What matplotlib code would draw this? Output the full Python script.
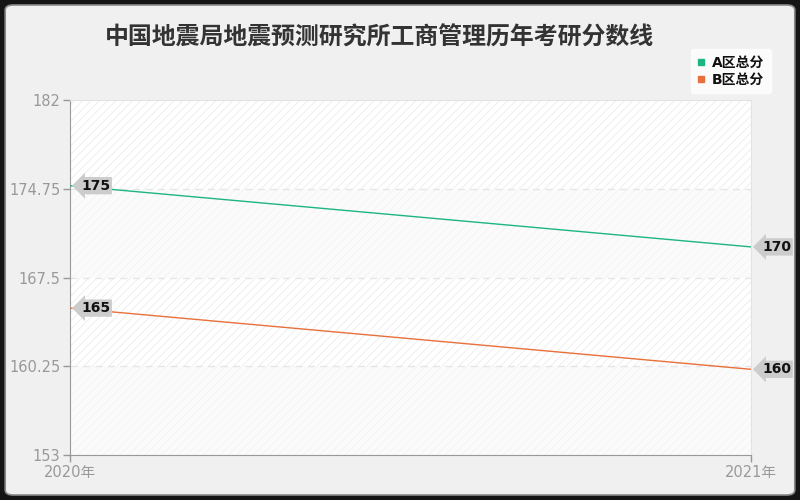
import matplotlib
matplotlib.use("Agg")
import matplotlib.pyplot as plt
from matplotlib.patches import FancyBboxPatch
from matplotlib.lines import Line2D

plt.rcParams['font.family'] = ['DejaVu Sans', 'Noto Sans CJK SC']

# --- Data ---
TITLE = "中国地震局地震预测研究所工商管理历年考研分数线"
years = ["2020年", "2021年"]
series_names = ["A区总分", "B区总分"]
score_a = [175, 170]
score_b = [165, 160]
y_ticks = [153, 160.25, 167.5, 174.75, 182]
y_tick_labels = ["153", "160.25", "167.5", "174.75", "182"]

colors = ["#1db584", "#e8703a"]

fig = plt.figure(figsize=(8, 5), dpi=100)
fig.patch.set_facecolor("#151515")

# rounded card behind everything
card = FancyBboxPatch((0.0065, 0.01), 0.987, 0.98, boxstyle="round,pad=0,rounding_size=0.01",
                      transform=fig.transFigure, fc="#f0f0f0", ec="#8a8a8a", lw=1.2, zorder=-10)
fig.patches.append(card)

ax = fig.add_axes([0.0875, 0.09, 0.85125, 0.71])
ax.set_facecolor("white")
x = list(range(len(years)))

# alternating bands
plt.rcParams['hatch.linewidth'] = 0.6
for i in range(len(y_ticks) - 1):
    if i % 2 == 1:
        ax.axhspan(y_ticks[i], y_ticks[i + 1], fc="white", ec="#ececec", hatch="////", lw=0, zorder=0)
    else:
        ax.axhspan(y_ticks[i], y_ticks[i + 1], fc="#fbfbfb", ec="#f3f3f3", hatch="////", lw=0, zorder=0)

for yt in y_ticks[1:-1]:
    ax.axhline(yt, color="#e6e6e6", lw=1, ls=(0, (5, 4)), zorder=1)

for vals, c, name in zip([score_a, score_b], colors, series_names):
    ax.plot(x, vals, color=c, lw=1, zorder=3)
    for xi, v in zip(x, vals):
        ax.annotate(str(v), (xi, v), xytext=(8, 0), textcoords="offset points",
                    ha="left", va="center", fontsize=10, fontweight="bold", color="#111111",
                    bbox=dict(boxstyle="larrow,pad=0.12", fc="#cccccc", ec="none"),
                    zorder=4, annotation_clip=False)

ax.set_xlim(0, 1)
ax.set_ylim(153, 182)
ax.set_xticks(x)
ax.set_xticklabels(years)
ax.set_yticks(y_ticks)
ax.set_yticklabels(y_tick_labels)
ax.tick_params(axis="both", colors="#999999", labelsize=10.5, length=5, width=1)
ax.tick_params(axis="x", pad=2)
ax.tick_params(axis="y", pad=2)
for s in ["top", "right"]:
    ax.spines[s].set_color("#e3e3e3")
for s in ["left", "bottom"]:
    ax.spines[s].set_color("#999999")

fig.text(0.131, 0.925, TITLE, fontsize=17.2, fontweight="bold", color="#333333", ha="left", va="center")

handles = [Line2D([], [], ls="none", marker="s", markersize=5, color=c) for c in colors]
leg = fig.legend(handles, series_names, loc="upper right", bbox_to_anchor=(0.972, 0.915), frameon=True,
                 fontsize=10, handlelength=0.6, handletextpad=0.5, borderpad=0.45, labelspacing=0.2,
                 fancybox=True)
leg.get_frame().set_facecolor("white")
leg.get_frame().set_edgecolor("white")
for t in leg.get_texts():
    t.set_fontweight("bold")
    t.set_color("#111111")

fig.savefig("out.png", dpi=100, facecolor=fig.get_facecolor())
